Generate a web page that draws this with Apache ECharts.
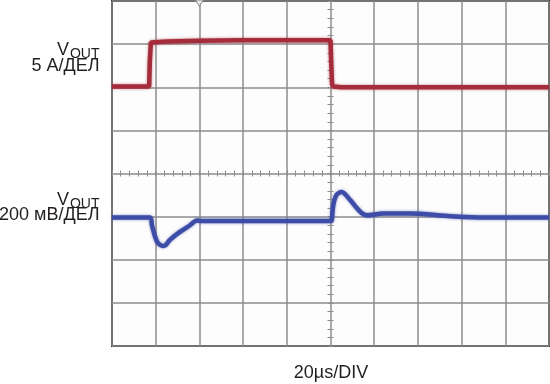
<!DOCTYPE html>
<html>
<head>
<meta charset="utf-8">
<script src="https://cdn.jsdelivr.net/npm/echarts@6/dist/echarts.min.js"></script>
<style>
html,body{margin:0;padding:0;background:#fff;}
#c{width:550px;height:384px;}
</style>
</head>
<body>
<div id="c"></div>
<script>
// time axis: 20 µs/DIV, 10 divisions
var timeMin = 0, timeMax = 200, timeStep = 20;
// current channel: 5 A/DIV
var currentMin = -30, currentMax = 10, currentStep = 5;
// voltage channel (deviation, mV): 200 mV/DIV
var voltMin = -600, voltMax = 1000, voltStep = 200;

// Current trace [time µs, A]
var currentTime  = [0,   17.0, 17.3, 17.8, 18.3, 25,  40,  60,   80,   100, 100.3, 100.7, 101.2, 105, 200];
var currentValue = [0.1, 0.1,  3.0,  5.2,  5.3,  5.3, 5.4, 5.45, 5.45, 5.45, 3.0,  0.4,   0.1,   0.0, 0.0];

// Output voltage deviation trace [time µs, mV]
var voltTime  = [0,  17.4, 18.3, 19.7, 21.0, 23.3, 24.7, 26.5, 31.1, 35.7, 38.9, 41, 70, 100.2, 100.6, 101.3, 102.8, 105.1, 108.9, 112, 114.3, 116.6, 124, 136, 155, 170, 200];
var voltValue = [-4, -4,   -40,  -92,  -122, -136, -131, -108, -71,  -40,  -18,  -20, -20, -20,  -14,   55,    101,   114,   78,    40,  16,    6,     14,  14,  2,   -4,  -4];

// trigger marker position (µs)
var triggerTime = [40];

var labelTop1 = 'V', labelSub = 'OUT', labelScale1 = '5 А/ДЕЛ', labelScale2 = '200 мВ/ДЕЛ', labelTime = '20µs/DIV';

function pairs(xs, ys){ var o=[]; for(var i=0;i<xs.length;i++) o.push([xs[i], ys[i]]); return o; }

var gridCol = '#8c8c8c';
var font = '"Liberation Sans", Arial, sans-serif';
var chart = echarts.init(document.getElementById('c'), null, {renderer:'canvas'});

function tickAxisX(inside){
  return {type:'value', min:timeMin, max:timeMax, interval:timeStep, position:'bottom', offset:-172.5,
    axisLine:{show:false}, axisLabel:{show:false}, splitLine:{show:false},
    axisTick:{show:true, inside:inside, length:3, lineStyle:{color:gridCol, width:1}},
    minorTick:{show:true, splitNumber:5, length:3, lineStyle:{color:gridCol, width:1}}};
}
function tickAxisY(inside){
  return {type:'value', min:0, max:8, interval:1, position:'left', offset:-218.5,
    axisLine:{show:false}, axisLabel:{show:false}, splitLine:{show:false},
    axisTick:{show:true, inside:inside, length:3, lineStyle:{color:gridCol, width:1}},
    minorTick:{show:true, splitNumber:5, length:3, lineStyle:{color:gridCol, width:1}}};
}

function txt(text, x, y, size, align){
  return {type:'text', style:{text:text, x:x, y:y, font:size+'px '+font, fill:'#231f20', textAlign:align, textVerticalAlign:'middle'}};
}

chart.setOption({
  animation:false,
  backgroundColor:'#ffffff',
  grid:{left:112, top:1, width:437, height:345, show:true, borderColor:'#2b2b2b', borderWidth:2, backgroundColor:'#fdfdfd'},
  xAxis:[
    {type:'value', min:timeMin, max:timeMax, interval:timeStep,
     axisLine:{show:false}, axisTick:{show:false}, axisLabel:{show:false},
     splitLine:{show:true, lineStyle:{color:gridCol, width:1.5}}},
    tickAxisX(false), tickAxisX(true)
  ],
  yAxis:[
    {type:'value', min:currentMin, max:currentMax, interval:currentStep, position:'left',
     axisLine:{show:false}, axisTick:{show:false}, axisLabel:{show:false},
     splitLine:{show:true, lineStyle:{color:gridCol, width:1.5}}},
    {type:'value', min:voltMin, max:voltMax, interval:voltStep, position:'right',
     axisLine:{show:false}, axisTick:{show:false}, axisLabel:{show:false}, splitLine:{show:false}},
    tickAxisY(false), tickAxisY(true)
  ],
  series:[
    {type:'line', name:'I', xAxisIndex:0, yAxisIndex:0, data:pairs(currentTime, currentValue), showSymbol:false,
     lineStyle:{color:'#a52d3b', width:4.5, shadowBlur:3, shadowColor:'rgba(165,45,59,0.6)'}},
    {type:'line', name:'V', xAxisIndex:0, yAxisIndex:1, data:pairs(voltTime, voltValue), showSymbol:false, smooth:0.3,
     lineStyle:{color:'#3d4ca6', width:4.5, shadowBlur:3, shadowColor:'rgba(61,76,166,0.6)'}},
    {type:'scatter', xAxisIndex:0, yAxisIndex:0, data:triggerTime.map(function(t){return [t, currentMax];}),
     symbol:'triangle', symbolRotate:180, symbolSize:[8,6], symbolOffset:[0,2], silent:true,
     itemStyle:{color:'#ffffff', borderColor:'#808080', borderWidth:1}}
  ],
  graphic:[
    txt(labelTop1, 69, 50.4, 18, 'right'),
    txt(labelSub, 99.5, 54.6, 14, 'right'),
    txt(labelScale1, 99.5, 66.2, 18, 'right'),
    txt(labelTop1, 69, 200.4, 18, 'right'),
    txt(labelSub, 99.5, 204.1, 14, 'right'),
    txt(labelScale2, 99.5, 214.8, 18, 'right'),
    txt(labelTime, 331, 372.7, 18, 'center')
  ]
});
</script>
</body>
</html>
